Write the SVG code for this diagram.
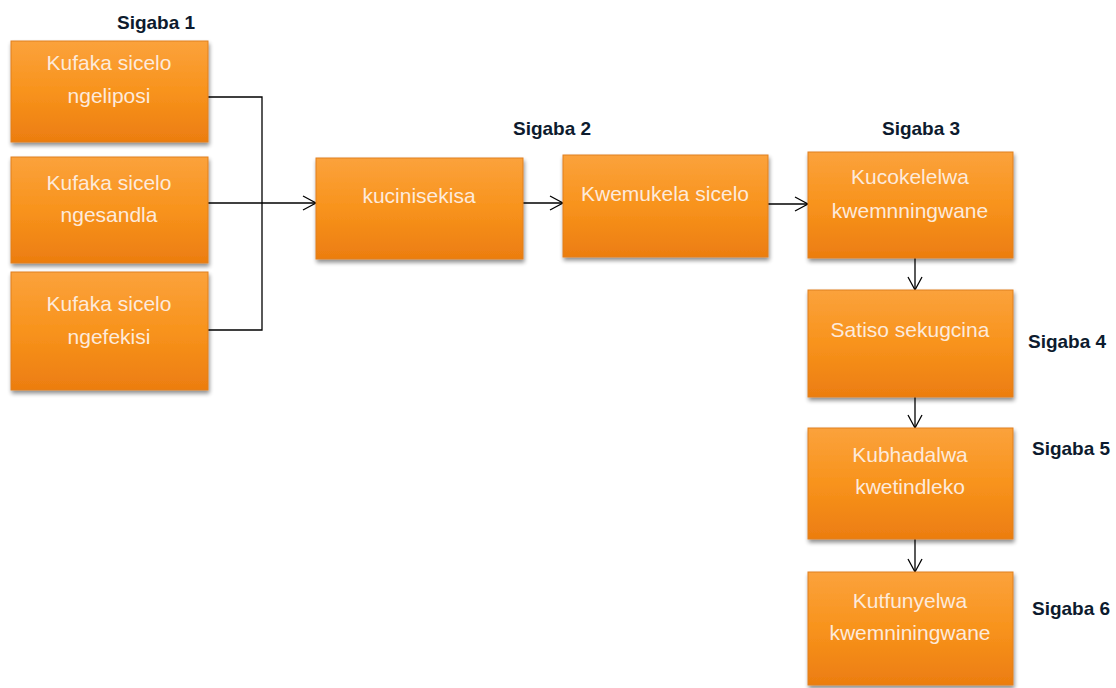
<svg xmlns="http://www.w3.org/2000/svg" width="1116" height="688" viewBox="0 0 1116 688">
<defs>
<linearGradient id="og" x1="0" y1="0" x2="0" y2="1">
<stop offset="0" stop-color="#fba23c"/>
<stop offset="0.5" stop-color="#f8931c"/>
<stop offset="1" stop-color="#ec7d10"/>
</linearGradient>
<filter id="sh" x="-10%" y="-10%" width="125%" height="130%">
<feGaussianBlur in="SourceAlpha" stdDeviation="2"/>
<feOffset dx="1" dy="3" result="b"/>
<feComponentTransfer><feFuncA type="linear" slope="0.45"/></feComponentTransfer>
<feMerge><feMergeNode/><feMergeNode in="SourceGraphic"/></feMerge>
</filter>
<marker id="arr" markerUnits="userSpaceOnUse" markerWidth="16" markerHeight="18" refX="14" refY="8" orient="auto" viewBox="0 0 16 18">
<path d="M1,1 L14,8 L1,15" fill="none" stroke="#000" stroke-width="1.3"/>
</marker>
</defs>
<style>
.box{fill:url(#og);stroke:#e0801f;stroke-width:1;filter:url(#sh)}
.nt{font-family:"Liberation Sans",Arial,sans-serif;font-size:21px;fill:#fdeadb;text-anchor:middle}
.lb{font-family:"Liberation Sans",Arial,sans-serif;font-size:19px;font-weight:bold;fill:#0d1b2e}
.cn{fill:none;stroke:#000;stroke-width:1.3}
</style>
<rect width="1116" height="688" fill="#fff"/>
<g id="connectors">
<polyline class="cn" points="208,97 262,97 262,330 208,330"/>
<line class="cn" x1="208" y1="203" x2="316" y2="203" marker-end="url(#arr)"/>
<line class="cn" x1="523" y1="203" x2="563" y2="203" marker-end="url(#arr)"/>
<line class="cn" x1="768" y1="204" x2="808" y2="204" marker-end="url(#arr)"/>
<line class="cn" x1="915" y1="258" x2="915" y2="290" marker-end="url(#arr)"/>
<line class="cn" x1="915" y1="397" x2="915" y2="428" marker-end="url(#arr)"/>
<line class="cn" x1="915" y1="539" x2="915" y2="572" marker-end="url(#arr)"/>
</g>
<g id="n1">
<rect class="box" x="11" y="41" width="197" height="101"/>
<text class="nt" x="109" y="70">Kufaka sicelo</text>
<text class="nt" x="109" y="103">ngeliposi</text>
</g>
<g id="n2">
<rect class="box" x="11" y="157" width="197" height="106"/>
<text class="nt" x="109" y="190">Kufaka sicelo</text>
<text class="nt" x="109" y="222">ngesandla</text>
</g>
<g id="n3">
<rect class="box" x="11" y="272" width="197" height="118"/>
<text class="nt" x="109" y="311">Kufaka sicelo</text>
<text class="nt" x="109" y="344">ngefekisi</text>
</g>
<g id="n4">
<rect class="box" x="316" y="158" width="207" height="101"/>
<text class="nt" x="419" y="203">kucinisekisa</text>
</g>
<g id="n5">
<rect class="box" x="563" y="155" width="205" height="102"/>
<text class="nt" x="665" y="201">Kwemukela sicelo</text>
</g>
<g id="n6">
<rect class="box" x="808" y="152" width="205" height="106"/>
<text class="nt" x="910" y="184">Kucokelelwa</text>
<text class="nt" x="910" y="218">kwemnningwane</text>
</g>
<g id="n7">
<rect class="box" x="808" y="290" width="205" height="107"/>
<text class="nt" x="910" y="337">Satiso sekugcina</text>
</g>
<g id="n8">
<rect class="box" x="808" y="428" width="205" height="111"/>
<text class="nt" x="910" y="462">Kubhadalwa</text>
<text class="nt" x="910" y="494">kwetindleko</text>
</g>
<g id="n9">
<rect class="box" x="808" y="572" width="205" height="113"/>
<text class="nt" x="910" y="608">Kutfunyelwa</text>
<text class="nt" x="910" y="640">kwemniningwane</text>
</g>
<g id="labels">
<text class="lb" x="117" y="29">Sigaba 1</text>
<text class="lb" x="513" y="135">Sigaba 2</text>
<text class="lb" x="882" y="135">Sigaba 3</text>
<text class="lb" x="1028" y="348">Sigaba 4</text>
<text class="lb" x="1032" y="455">Sigaba 5</text>
<text class="lb" x="1032" y="615">Sigaba 6</text>
</g>
</svg>
